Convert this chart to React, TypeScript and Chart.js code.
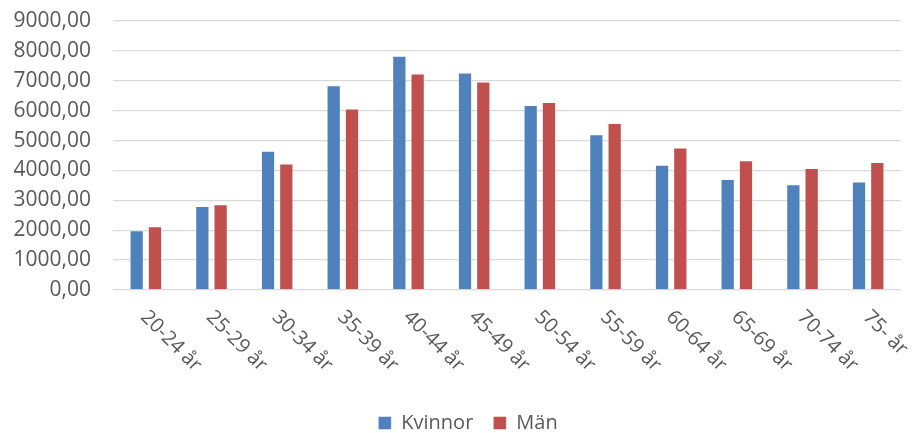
import React, { useEffect, useRef } from "react";
import { Chart, registerables } from "chart.js";

Chart.register(...registerables);

const categories = [
  "20-24 år", "25-29 år", "30-34 år", "35-39 år", "40-44 år", "45-49 år",
  "50-54 år", "55-59 år", "60-64 år", "65-69 år", "70-74 år", "75- år",
];
const kvinnor = [2000, 2810, 4660, 6850, 7840, 7280, 6190, 5210, 4190, 3710, 3540, 3630];
const man = [2130, 2870, 4230, 6070, 7240, 6980, 6290, 5590, 4770, 4340, 4080, 4280];
const seriesNames = ["Kvinnor", "Män"];
const yTicks = [0, 1000, 2000, 3000, 4000, 5000, 6000, 7000, 8000, 9000];

const FONT = "'Open Sans', 'DejaVu Sans', sans-serif";
const TEXT = "#595959";

const rotatedLabels = {
  id: "rotatedLabels",
  afterLayout(chart: any) {
    if (chart.legend) {
      chart.legend.left += 35;
    }
  },
  afterDraw(chart: any) {
    const ctx = chart.ctx;
    const xs = chart.scales.x;
    const bottom = chart.chartArea.bottom;
    ctx.save();
    ctx.font = `20px ${FONT}`;
    ctx.fillStyle = TEXT;
    ctx.textAlign = "left";
    ctx.textBaseline = "middle";
    categories.forEach((lab, i) => {
      const x = xs.getPixelForValue(i);
      ctx.save();
      ctx.translate(x - 2, bottom + 24);
      ctx.rotate(Math.PI / 4);
      ctx.fillText(lab, 0, 0);
      ctx.restore();
    });
    ctx.restore();
  },
};

export default function App() {
  const ref = useRef<HTMLCanvasElement>(null);
  useEffect(() => {
    if (!ref.current) return;
    const chart = new Chart(ref.current, {
      type: "bar",
      data: {
        labels: categories,
        datasets: [
          {
            label: seriesNames[0],
            data: kvinnor,
            backgroundColor: "#4F81BD",
            borderColor: "rgba(255,255,255,0.45)",
            borderWidth: 1,
            categoryPercentage: 0.557,
            barPercentage: 0.78,
          },
          {
            label: seriesNames[1],
            data: man,
            backgroundColor: "#C0504D",
            borderColor: "rgba(255,255,255,0.45)",
            borderWidth: 1,
            categoryPercentage: 0.557,
            barPercentage: 0.78,
          },
        ],
      },
      options: {
        animation: false,
        responsive: true,
        maintainAspectRatio: false,
        layout: { padding: { left: 0, right: 16, top: 21, bottom: -10 } },
        plugins: {
          tooltip: { enabled: false },
          legend: {
            position: "bottom",
            labels: {
              boxWidth: 13,
              boxHeight: 13,
              padding: 20,
              color: TEXT,
              font: { family: FONT, size: 20 },
            },
          },
        },
        scales: {
          x: {
            grid: { display: false },
            border: { display: false },
            ticks: { display: false },
            afterFit(scale: any) {
              scale.height = 103;
            },
          },
          y: {
            min: 0,
            max: 9000,
            afterBuildTicks(scale: any) {
              scale.ticks = yTicks.map((v) => ({ value: v }));
            },
            grid: { color: "#D9D9D9", lineWidth: 1.3, drawTicks: false },
            border: { display: false },
            ticks: {
              padding: 22,
              color: TEXT,
              font: { family: FONT, size: 21 },
              callback: (v: any) => Number(v).toFixed(2).replace(".", ","),
            },
            afterFit(scale: any) {
              scale.width = 113;
              scale.paddingTop = 0;
              scale.paddingBottom = 0;
            },
          },
        },
      },
      plugins: [rotatedLabels],
    });
    return () => chart.destroy();
  }, []);
  return (
    <div style={{ position: "fixed", left: 0, top: 0, width: 917, height: 433, background: "#fff" }}>
      <canvas ref={ref} />
    </div>
  );
}
